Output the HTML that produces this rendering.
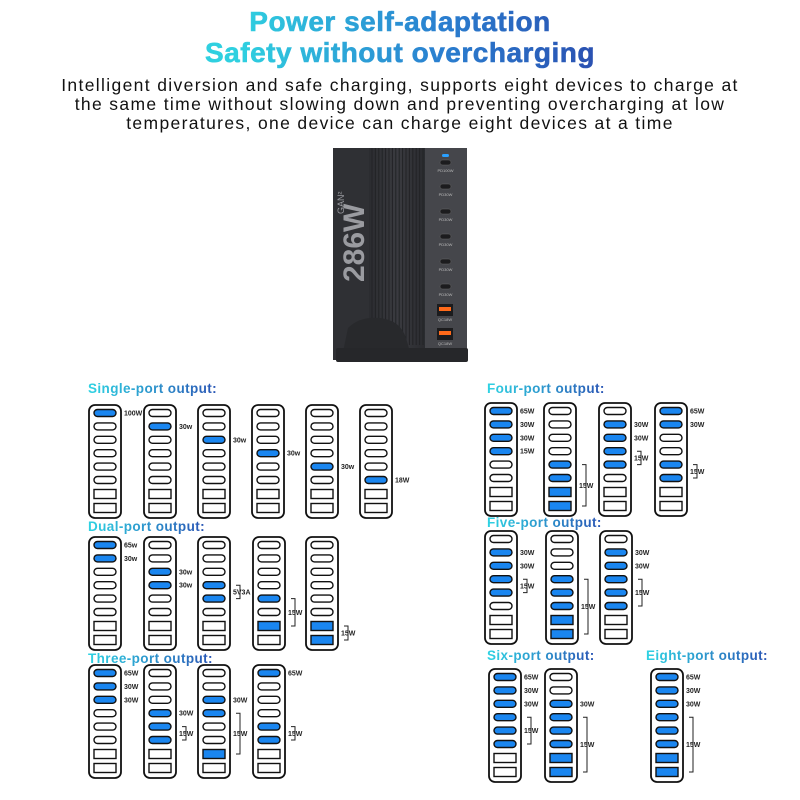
<!DOCTYPE html>
<html><head><meta charset="utf-8">
<style>
html,body{margin:0;padding:0;background:#fff;}
body{width:800px;height:800px;position:relative;overflow:hidden;font-family:"Liberation Sans",sans-serif;}
.t{position:absolute;left:0;width:800px;text-align:center;font-weight:900;font-size:28px;line-height:32px;
 background:linear-gradient(90deg,#2fd0e0 30%,#2a7fd0 55%,#2a4fb0 75%);-webkit-background-clip:text;background-clip:text;color:transparent;letter-spacing:0.5px;-webkit-text-stroke:0.6px transparent}
.p{position:absolute;left:0;width:800px;text-align:center;font-size:17.5px;line-height:19px;color:#111;letter-spacing:1.35px}
</style></head><body>
<div class="t" style="top:6px">Power self-adaptation</div>
<div class="t" style="top:37px">Safety without overcharging</div>
<div class="p" style="top:76px">Intelligent diversion and safe charging, supports eight devices to charge at<br>the same time without slowing down and preventing overcharging at low<br>temperatures, one device can charge eight devices at a time</div>
<svg id="s" width="800" height="800" style="position:absolute;left:0;top:0">
<defs>
<linearGradient id="g" x1="0" x2="1"><stop offset="0" stop-color="#2fd3e3"/><stop offset="1" stop-color="#2a55b5"/></linearGradient>
<linearGradient id="rib" x1="0" x2="1">
<stop offset="0" stop-color="#2b2c30"/><stop offset="0.5" stop-color="#3a3b40"/><stop offset="1" stop-color="#2a2b2f"/></linearGradient>
</defs>
<g>
<rect x="333" y="148" width="134" height="212" fill="#3a3b3f"/>
<rect x="333" y="148" width="36" height="212" fill="#2f3034"/>
<rect x="369" y="148" width="56" height="212" fill="url(#rib)"/>
<g id="ribs" stroke="#222326" stroke-width="1"></g>
<rect x="425" y="148" width="42" height="212" fill="#45464b"/>
<text transform="translate(364,282) rotate(-90)" font-family="Liberation Sans" font-weight="bold" font-size="30" fill="#9a9ba0">286W</text>
<text transform="translate(344,214) rotate(-90)" font-family="Liberation Sans" font-size="9" fill="#9a9ba0">GAN²</text>
<rect x="442" y="154" width="7" height="3" rx="1.5" fill="#2aa0ff"/>
<path d="M343 352 L348 328 Q360 316 380 318 Q400 320 406 338 L410 352 Z" fill="#28292c"/>
<rect x="336" y="348" width="132" height="14" rx="2" fill="#26272a"/>
</g>
</svg>
<script>
var s=document.getElementById('s'),NS='http://www.w3.org/2000/svg';
function el(n,a,t){var e=document.createElementNS(NS,n);for(var k in a)e.setAttribute(k,a[k]);if(t)e.textContent=t;s.appendChild(e);return e;}
var ribs=document.getElementById('ribs');
for(var x=372;x<424;x+=3.4){var l=document.createElementNS(NS,'line');l.setAttribute('x1',x);l.setAttribute('x2',x);l.setAttribute('y1',148);l.setAttribute('y2',345);ribs.appendChild(l);}
var py=[163,187,212,237,262,287];
py.forEach(function(y,i){el('rect',{x:440,y:y-3,width:11,height:5,rx:2.5,fill:'#1c1c1e',stroke:'#666','stroke-width':0.5});
el('text',{x:445.5,y:y+9,'font-size':4,fill:'#bbb','text-anchor':'middle','font-family':'Liberation Sans'},i==0?'PD100W':'PD30W');});
[310,334].forEach(function(y){el('rect',{x:437,y:y-6,width:16,height:12,fill:'#1c1c1e'});el('rect',{x:439,y:y-3,width:12,height:4,fill:'#ff6a1a'});
el('text',{x:445,y:y+11,'font-size':4,fill:'#bbb','text-anchor':'middle','font-family':'Liberation Sans'},'QC18W');});
function head(x,y,t){el('text',{x:x,y:y,'font-size':13.5,'font-weight':'bold',fill:'url(#g)','font-family':'Liberation Sans','letter-spacing':0.4},t);}
var OC=[8,21.4,34.8,48.2,61.6,75],RC=[89,103];
function cy(i){return i<6?OC[i]:RC[i-6];}
function dev(x,y,act,labs,br){
 el('rect',{x:x,y:y,width:32,height:113,rx:6,fill:'#fff',stroke:'#111','stroke-width':1.8});
 for(var i=0;i<8;i++){var on=act.indexOf(i)>=0,f=on?'#1a86f0':'#fff';
  if(i<6)el('rect',{x:x+5,y:y+cy(i)-3.5,width:22,height:7,rx:3.5,fill:f,stroke:'#111','stroke-width':1.4});
  else el('rect',{x:x+5,y:y+cy(i)-4.5,width:22,height:9,fill:f,stroke:'#111','stroke-width':1.4});}
 (labs||[]).forEach(function(l){el('text',{x:x+35,y:y+cy(l[0])+2.5,'font-size':7,'font-weight':'bold',fill:'#222','font-family':'Liberation Sans'},l[1]);});
 if(br){var y0=y+cy(br[0]),y1=y+cy(br[1]),bx=x+42;
  el('path',{d:'M'+(bx-4)+' '+y0+'H'+bx+'V'+y1+'H'+(bx-4),fill:'none',stroke:'#222','stroke-width':1});
  el('text',{x:x+35,y:(y0+y1)/2+2.5,'font-size':7,'font-weight':'bold',fill:'#222','font-family':'Liberation Sans'},br[2]||'15W');}
}
head(88,393,'Single-port output:');
var sx=[89,144,198,252,306,360],sl=['100W','30w','30w','30w','30w','18W'];
sx.forEach(function(x,i){dev(x,405,[i],[[i,sl[i]]]);});
head(88,531,'Dual-port output:');
dev(89,537,[0,1],[[0,'65w'],[1,'30w']]);
dev(144,537,[2,3],[[2,'30w'],[3,'30w']]);
dev(198,537,[3,4],[],[3,4,'5V3A']);
dev(253,537,[4,6],[],[4,6]);
dev(306,537,[6,7],[],[6,7]);
head(88,663,'Three-port output:');
dev(89,665,[0,1,2],[[0,'65W'],[1,'30W'],[2,'30W']]);
dev(144,665,[3,4,5],[[3,'30W']],[4,5]);
dev(198,665,[2,3,6],[[2,'30W']],[3,6]);
dev(253,665,[0,4,5],[[0,'65W']],[4,5]);
head(487,393,'Four-port output:');
dev(485,403,[0,1,2,3],[[0,'65W'],[1,'30W'],[2,'30W'],[3,'15W']]);
dev(544,403,[4,5,6,7],[],[4,7]);
dev(599,403,[1,2,3,4],[[1,'30W'],[2,'30W']],[3,4]);
dev(655,403,[0,1,4,5],[[0,'65W'],[1,'30W']],[4,5]);
head(487,527,'Five-port output:');
dev(485,531,[1,2,3,4],[[1,'30W'],[2,'30W']],[3,4]);
dev(546,531,[3,4,5,6,7],[],[3,7]);
dev(600,531,[1,2,3,4,5],[[1,'30W'],[2,'30W']],[3,5]);
head(487,660,'Six-port output:');
dev(489,669,[0,1,2,3,4,5],[[0,'65W'],[1,'30W'],[2,'30W']],[3,5]);
dev(545,669,[2,3,4,5,6,7],[[2,'30W']],[3,7]);
head(646,660,'Eight-port output:');
dev(651,669,[0,1,2,3,4,5,6,7],[[0,'65W'],[1,'30W'],[2,'30W']],[3,7]);
</script>
</body></html>
